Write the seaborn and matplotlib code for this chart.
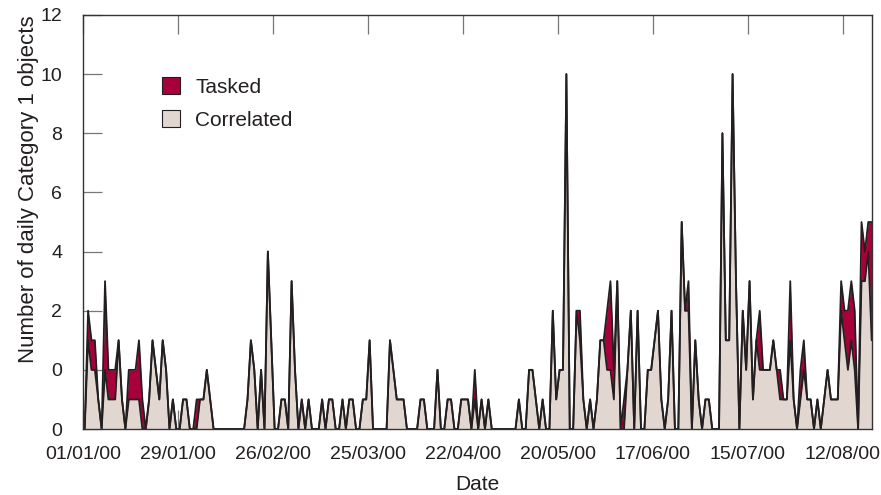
#importing libraries
import pandas as pd
import numpy as np
import matplotlib
matplotlib.use('Agg')
from matplotlib import pyplot as plt
from matplotlib.patches import Patch
import seaborn as sns

# daily counts, 01/01/00 onwards (one value per day)
correlated = [0, 3, 2, 2, 1, 0, 2, 1, 1, 1,
              3, 1, 0, 1, 1, 1, 1, 0, 0, 1,
              3, 2, 1, 3, 2, 0, 1, 0, 0, 1,
              1, 0, 0, 0, 1, 1, 2, 1, 0, 0,
              0, 0, 0, 0, 0, 0, 0, 0, 1, 3,
              2, 0, 2, 0, 6, 3, 0, 0, 1, 1,
              0, 5, 2, 0, 1, 0, 1, 0, 0, 0,
              1, 0, 1, 1, 0, 0, 1, 0, 1, 1,
              0, 0, 1, 1, 3, 0, 0, 0, 0, 0,
              3, 2, 1, 1, 1, 0, 0, 0, 0, 1,
              1, 0, 0, 0, 2, 0, 0, 1, 1, 0,
              0, 1, 1, 1, 0, 1, 0, 1, 0, 1,
              0, 0, 0, 0, 0, 0, 0, 0, 1, 0,
              0, 2, 2, 1, 0, 1, 0, 0, 4, 1,
              2, 2, 12, 0, 0, 4, 3, 1, 0, 1,
              0, 1, 3, 3, 2, 2, 1, 5, 0, 0,
              2, 4, 0, 4, 0, 0, 2, 2, 3, 4,
              1, 0, 1, 4, 0, 0, 7, 4, 4, 0,
              3, 1, 0, 1, 1, 0, 0, 0, 10, 3,
              3, 12, 5, 0, 4, 2, 5, 1, 3, 2,
              2, 2, 2, 3, 2, 1, 1, 1, 3, 1,
              0, 1, 2, 1, 1, 0, 1, 0, 1, 2,
              1, 1, 1, 4, 3, 2, 3, 2, 0, 5,
              5, 6, 3]

tasked = [0, 1, 1, 1, 0, 0, 3, 1, 1, 1,
          0, 0, 0, 1, 1, 1, 2, 1, 0, 0,
          0, 0, 0, 0, 0, 0, 0, 0, 0, 0,
          0, 0, 0, 1, 0, 0, 0, 0, 0, 0,
          0, 0, 0, 0, 0, 0, 0, 0, 0, 0,
          0, 0, 0, 0, 0, 0, 0, 0, 0, 0,
          0, 0, 0, 0, 0, 0, 0, 0, 0, 0,
          0, 0, 0, 0, 0, 0, 0, 0, 0, 0,
          0, 0, 0, 0, 0, 0, 0, 0, 0, 0,
          0, 0, 0, 0, 0, 0, 0, 0, 0, 0,
          0, 0, 0, 0, 0, 0, 0, 0, 0, 0,
          0, 0, 0, 0, 0, 1, 0, 0, 0, 0,
          0, 0, 0, 0, 0, 0, 0, 0, 0, 0,
          0, 0, 0, 0, 0, 0, 0, 0, 0, 0,
          0, 0, 0, 0, 0, 0, 1, 0, 0, 0,
          0, 0, 0, 0, 2, 3, 1, 0, 0, 1,
          0, 0, 0, 0, 0, 0, 0, 0, 0, 0,
          0, 0, 0, 0, 0, 0, 0, 0, 1, 0,
          0, 0, 0, 0, 0, 0, 0, 0, 0, 0,
          0, 0, 0, 0, 0, 0, 0, 0, 0, 2,
          0, 0, 0, 0, 0, 1, 0, 0, 2, 0,
          0, 1, 1, 0, 0, 0, 0, 0, 0, 0,
          0, 0, 0, 1, 1, 2, 2, 2, 0, 2,
          1, 1, 4]

x_tick_labels = ['01/01/00', '29/01/00', '26/02/00', '25/03/00', '22/04/00',
                 '20/05/00', '17/06/00', '15/07/00', '12/08/00']
y_tick_labels = ['0', '0', '2', '4', '6', '8', '10', '12']

df = pd.DataFrame({'Date': pd.date_range('2000-01-01 12:00', periods=len(correlated), freq='D'),
                   'Correlated': correlated,
                   'Tasked': tasked})
df['Total'] = df['Correlated'] + df['Tasked']

red = '#A8003A'
grey = '#E2D6D1'
ink = '#231F20'

sns.set_theme(style='white')
plt.rcParams['font.family'] = ['Liberation Sans', 'DejaVu Sans']

fig, ax = plt.subplots(figsize=(8.81, 4.95), dpi=100)
fig.subplots_adjust(left=0.0942, right=0.9898, bottom=0.1333, top=0.9697)

#plotting
ax.fill_between(df['Date'], 0, df['Correlated'], color=grey, lw=0, zorder=1)
ax.fill_between(df['Date'], df['Correlated'], df['Total'], color=red, lw=0, zorder=1)
sns.lineplot(data=df, x='Date', y='Correlated', color=ink, linewidth=1.3, ax=ax, zorder=2)
sns.lineplot(data=df, x='Date', y='Total', color=ink, linewidth=1.3, ax=ax, zorder=2)

start = pd.Timestamp('2000-01-01')
ax.set_xlim(start, start + pd.Timedelta(days=232.6))
ax.set_xticks(pd.to_datetime(x_tick_labels, format='%d/%m/%y'))
ax.set_xticklabels(x_tick_labels)
ax.set_ylim(0, 14)
ax.set_yticks(np.arange(0, 15, 2))
ax.set_yticklabels(y_tick_labels)

ax.tick_params(axis='x', direction='in', length=13.5, width=0.9, color='#777777',
               top=True, bottom=True, labelsize=14, pad=12, labelcolor=ink)
ax.tick_params(axis='y', direction='in', length=13.5, width=0.9, color='#777777',
               left=True, right=False, labelsize=14, pad=15, labelcolor=ink)
for s in ax.spines.values():
    s.set_color('#333333')
    s.set_linewidth(1.0)

ax.set_xlabel('Date', fontsize=15, color=ink)
ax.set_ylabel('Number of daily Category 1 objects', fontsize=16, color=ink)
ax.xaxis.set_label_coords(0.5, -0.112)
ax.yaxis.set_label_coords(-0.056, 0.58)

handles = [Patch(facecolor=red, edgecolor=ink, lw=0.8, label='Tasked'),
           Patch(facecolor=grey, edgecolor=ink, lw=0.8, label='Correlated')]
leg = ax.legend(handles=handles, loc='upper left', bbox_to_anchor=(0.1, 0.85), frameon=False,
                fontsize=15, handlelength=0.85, handleheight=0.85, handletextpad=0.75,
                labelspacing=0.65, borderpad=0, borderaxespad=0)
for t in leg.get_texts():
    t.set_color(ink)

plt.savefig('out.png', dpi=100)
